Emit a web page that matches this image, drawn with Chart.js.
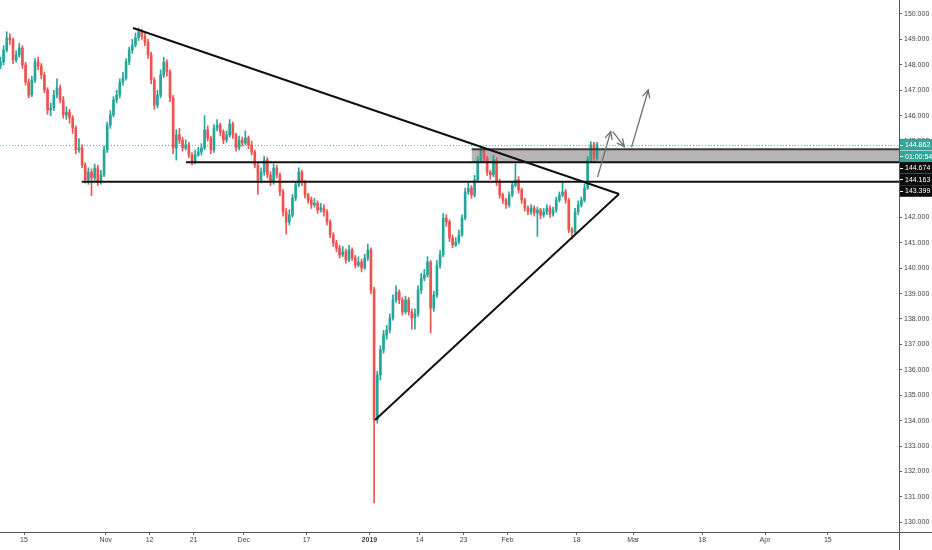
<!DOCTYPE html>
<html><head><meta charset="utf-8">
<script src="https://cdn.jsdelivr.net/npm/chart.js@4.4.0/dist/chart.umd.min.js"></script>
<style>html,body{margin:0;padding:0;background:#fff;overflow:hidden}canvas{display:block}</style>
</head><body>
<canvas id="c" width="932" height="550"></canvas>
<script>
// ---- data (12h candles, trading-day index 0 = Oct 15) ----
const firstSlot = -3.75;      // trading-day index of first candle
const slotsPerDay = 2;
const firstOpen = 147.95;
const closes = [
148.11,148.58,149.06,148.98,148.19,148.39,148.66,147.99,147.32,146.81,
147.40,148.11,147.95,147.60,147.01,146.22,146.30,146.81,147.09,146.62,
146.03,146.14,145.91,145.51,144.65,144.73,144.06,143.47,143.78,143.55,
143.94,143.39,143.67,144.65,145.63,146.03,146.62,146.81,147.32,147.48,
148.11,148.58,148.78,149.06,149.29,149.13,148.90,148.39,147.40,146.42,
146.81,147.60,148.11,147.72,146.70,144.73,145.24,145.04,144.73,144.85,
144.45,144.18,144.45,144.57,144.73,145.44,145.12,144.65,145.51,145.63,
145.36,145.04,145.24,145.67,145.24,144.73,145.04,144.92,145.12,144.85,
144.57,144.06,143.47,143.78,144.26,143.67,143.39,143.94,143.67,143.00,
142.21,141.82,142.09,142.76,143.27,143.78,143.39,142.88,142.68,142.49,
142.56,142.29,142.37,142.21,141.82,141.31,140.99,140.79,140.52,140.64,
140.32,140.72,140.40,140.12,140.24,140.01,140.40,140.72,139.14,134.03,
135.80,136.78,137.37,137.57,138.04,138.75,139.06,138.75,138.28,138.75,
138.28,138.04,138.20,139.14,139.61,139.73,140.24,138.43,138.94,140.12,
140.52,141.97,141.82,141.19,140.91,141.03,141.31,141.97,143.00,143.15,
142.88,143.47,144.26,144.65,144.33,143.78,143.67,144.26,143.39,142.88,
142.68,142.49,142.88,143.27,143.47,143.08,142.68,142.37,142.21,142.37,
142.17,142.29,142.09,142.21,142.37,142.13,142.29,142.68,142.88,143.00,
142.68,141.50,141.42,142.21,142.49,142.68,143.15,144.26,144.85,144.33,
144.86];
const highs = [
148.30,148.75,149.30,149.22,149.05,148.55,148.85,148.75,148.10,147.45,
147.55,148.25,148.30,148.05,147.70,147.10,146.50,147.00,147.45,147.20,
146.75,146.35,146.25,146.00,145.60,145.10,144.85,144.15,143.95,143.90,
144.10,144.05,143.85,144.80,145.75,146.20,146.75,147.00,147.45,147.70,
148.25,148.70,149.00,149.25,149.45,149.40,149.25,149.00,148.50,147.50,
147.00,147.80,148.30,148.20,147.80,146.80,145.45,145.50,145.15,145.05,
144.95,144.55,144.65,144.75,144.90,146.00,145.60,145.20,145.65,145.85,
145.70,145.45,145.40,145.85,145.75,145.30,145.20,145.15,145.40,145.20,
145.00,144.65,144.15,143.95,144.40,144.35,143.80,144.10,144.05,143.75,
143.10,142.35,142.30,142.90,143.40,143.95,143.85,143.45,142.95,142.80,
142.75,142.65,142.55,142.50,142.30,141.90,141.40,141.10,140.90,140.85,
140.75,140.90,140.80,140.50,140.45,140.35,140.55,140.95,140.80,139.25,
135.95,136.95,137.55,137.75,138.20,138.95,139.30,139.15,138.85,138.90,
138.85,138.40,138.40,139.30,139.80,139.95,140.45,140.30,139.10,140.30,
140.70,142.15,142.10,141.90,141.30,141.20,141.50,142.10,143.15,143.35,
143.25,143.65,144.40,144.80,144.70,144.40,143.85,144.45,144.35,143.50,
142.95,142.75,143.00,143.40,144.10,143.60,143.15,142.75,142.45,142.50,
142.45,142.40,142.35,142.35,142.50,142.45,142.40,142.80,143.00,143.40,
143.10,142.75,141.60,142.35,142.65,142.80,143.30,144.40,144.98,144.95,
144.95];
const lows = [
147.85,148.00,148.50,148.80,148.05,148.10,148.30,147.85,147.20,146.70,
146.75,147.30,147.80,147.45,146.90,146.05,146.00,146.20,146.70,146.50,
145.90,145.85,145.70,145.30,144.50,144.55,143.95,143.35,143.30,142.85,
143.45,143.25,143.30,143.60,144.55,145.50,145.95,146.50,146.70,147.20,
147.40,148.00,148.45,148.70,148.95,149.00,148.75,148.25,147.25,146.25,
146.30,146.70,147.50,147.55,146.55,144.50,144.25,144.90,144.60,144.65,
144.35,144.05,144.10,144.40,144.45,144.65,145.00,144.50,144.55,145.40,
145.20,144.90,144.95,145.15,145.10,144.60,144.65,144.80,144.85,144.70,
144.45,143.95,142.90,143.35,143.65,143.55,143.25,143.30,143.55,142.85,
142.05,141.35,141.70,142.00,142.65,143.20,143.25,142.75,142.55,142.35,
142.40,142.15,142.20,142.05,141.70,141.20,140.85,140.65,140.40,140.45,
140.20,140.25,140.30,140.00,140.05,139.85,139.95,140.30,139.00,130.76,
133.90,135.60,136.65,137.20,137.45,137.95,138.65,138.60,138.15,138.20,
138.15,137.60,137.60,138.10,139.00,139.50,139.65,137.45,138.30,138.85,
140.00,140.45,141.65,141.05,140.80,140.85,140.95,141.25,141.90,142.90,
142.75,142.80,143.40,144.15,144.20,143.65,143.50,143.60,143.25,142.75,
142.55,142.35,142.40,142.80,143.20,142.95,142.55,142.25,142.10,142.10,
142.05,141.25,141.95,142.00,142.10,142.00,142.05,142.20,142.60,142.80,
142.55,141.40,141.15,141.35,142.10,142.40,142.60,143.10,144.15,144.20,
144.25];

const tickDays   = [0, 13, 20, 27, 35, 45, 55, 63, 70, 77, 88, 97, 108, 118, 128];
const tickLabels = ['15','Nov','12','21','Dec','17','2019','14','23','Feb','18','Mar','18','Apr','15'];
const priceTicks = [130,131,132,133,134,135,136,137,138,139,140,141,142,143,144,145,146,147,148,149,150];

// drawings: [trading day, price]
const trendDown = [[17.36, 149.45], [94.75, 142.92]];
const trendUp   = [[55.9, 134.03], [94.75, 142.92]];
const levelPrices = [144.163, 143.399];
const levelStarts = [25.8, 9.2];
const zoneStart = 71.3;
const zoneTop = 144.674;
const zoneBottom = 144.163;
const arrowPaths = [
  [[91.35, 143.60], [93.42, 145.37]],
  [[93.79, 145.36], [95.59, 144.78]],
  [[96.77, 144.78], [99.41, 147.01]]
];
const lastPrice = 144.862;
const countdown = '01:00:54';

// ---- build ----
const UP = '#26a69a', DOWN = '#ef5350';
const opens = closes.map((c, i) => i ? closes[i - 1] : firstOpen);
const xs = closes.map((c, i) => firstSlot + i / slotsPerDay);
const bodyData = closes.map((c, i) => ({x: xs[i], y: [opens[i], c]}));
const wickData = closes.map((c, i) => ({x: xs[i], y: [lows[i], highs[i]]}));
const colorOf = ctx => closes[ctx.dataIndex] >= opens[ctx.dataIndex] ? UP : DOWN;

Chart.defaults.font.family = "'Liberation Sans', Arial, sans-serif";

function arrow(ctx, x1, y1, x2, y2) {
  ctx.beginPath(); ctx.moveTo(x1, y1); ctx.lineTo(x2, y2); ctx.stroke();
  const a = Math.atan2(y2 - y1, x2 - x1), L = 8, s = 0.45;
  ctx.beginPath();
  ctx.moveTo(x2 - L * Math.cos(a - s), y2 - L * Math.sin(a - s));
  ctx.lineTo(x2, y2);
  ctx.lineTo(x2 - L * Math.cos(a + s), y2 - L * Math.sin(a + s));
  ctx.stroke();
}

const overlay = {
  id: 'overlay',
  beforeDatasetsDraw(chart) {
    const {ctx, chartArea: a, scales: {x, y}} = chart;
    ctx.save();
    ctx.beginPath(); ctx.rect(a.left, a.top, a.width, a.height); ctx.clip();
    const zx = x.getPixelForValue(zoneStart), zt = y.getPixelForValue(zoneTop), zb = y.getPixelForValue(zoneBottom);
    ctx.fillStyle = '#b5b5b5';
    ctx.fillRect(zx, zt, a.right - zx, zb - zt);
    ctx.strokeStyle = '#5fb3a8'; ctx.lineWidth = 1; ctx.setLineDash([1, 2]);
    const ly = Math.round(y.getPixelForValue(lastPrice)) + 0.5;
    ctx.beginPath(); ctx.moveTo(a.left, ly); ctx.lineTo(a.right, ly); ctx.stroke();
    ctx.restore();
  },
  afterDatasetsDraw(chart) {
    const {ctx, chartArea: a, scales: {x, y}} = chart;
    const P = p => [x.getPixelForValue(p[0]), y.getPixelForValue(p[1])];
    ctx.save();
    ctx.beginPath(); ctx.rect(a.left, a.top, a.width, a.height); ctx.clip();
    const zx = x.getPixelForValue(zoneStart), zt = y.getPixelForValue(zoneTop);
    ctx.strokeStyle = '#3c3c3c'; ctx.lineWidth = 2;
    ctx.beginPath(); ctx.moveTo(zx, zt); ctx.lineTo(a.right, zt); ctx.stroke();
    ctx.strokeStyle = '#111'; ctx.lineWidth = 2;
    levelPrices.forEach((p, i) => {
      const yy = y.getPixelForValue(p);
      ctx.beginPath(); ctx.moveTo(x.getPixelForValue(levelStarts[i]), yy); ctx.lineTo(a.right, yy); ctx.stroke();
    });
    [trendDown, trendUp].forEach(l => {
      const p1 = P(l[0]), p2 = P(l[1]);
      ctx.beginPath(); ctx.moveTo(p1[0], p1[1]); ctx.lineTo(p2[0], p2[1]); ctx.stroke();
    });
    ctx.strokeStyle = '#6e6e6e'; ctx.lineWidth = 1.3; ctx.lineCap = 'round';
    arrowPaths.forEach(ar => { const p1 = P(ar[0]), p2 = P(ar[1]); arrow(ctx, p1[0], p1[1], p2[0], p2[1]); });
    ctx.restore();
  },
  afterDraw(chart) {
    const {ctx, chartArea: a, scales: {y}} = chart;
    ctx.save();
    // axis lines continue past the crossing, as in the reference
    ctx.strokeStyle = '#555'; ctx.lineWidth = 1;
    const ax = Math.round(a.right) + 0.5, ay = Math.round(a.bottom) + 0.5;
    ctx.beginPath(); ctx.moveTo(ax, a.bottom); ctx.lineTo(ax, chart.height); ctx.stroke();
    ctx.beginPath(); ctx.moveTo(a.right, ay); ctx.lineTo(chart.width, ay); ctx.stroke();
    const items = [
      {t: lastPrice.toFixed(3), p: lastPrice, bg: '#33a697'},
      {t: countdown, p: lastPrice, bg: '#33a697'},
      {t: zoneTop.toFixed(3), p: zoneTop, bg: '#0c0c0c'},
      {t: levelPrices[0].toFixed(3), p: levelPrices[0], bg: '#0c0c0c'},
      {t: levelPrices[1].toFixed(3), p: levelPrices[1], bg: '#0c0c0c'}
    ];
    let prev = -1e9;
    ctx.font = "7px 'Liberation Sans', Arial, sans-serif";
    ctx.textBaseline = 'middle';
    items.forEach((it, i) => {
      const cy = Math.max(y.getPixelForValue(it.p), prev + 11.6);
      prev = cy;
      ctx.fillStyle = it.bg;
      const gap = (i === 1) ? 0.5 : 0;
      ctx.fillRect(a.right + 1, cy - 5.8 + gap, chart.width - a.right - 1, 11.6 - gap);
      ctx.fillStyle = '#fff';
      ctx.fillRect(a.right + 1, Math.round(cy), 3, 1);
      ctx.fillText(it.t, a.right + 6, cy + 0.5);
    });
    ctx.restore();
  }
};

new Chart(document.getElementById('c'), {
  type: 'bar',
  data: {
    datasets: [
      {data: bodyData, backgroundColor: colorOf, barThickness: 2, minBarLength: 1, grouped: false, borderWidth: 0},
      {data: wickData, backgroundColor: colorOf, barThickness: 1, grouped: false, borderWidth: 0}
    ]
  },
  options: {
    responsive: false,
    animation: false,
    events: [],
    layout: {padding: 0},
    plugins: {legend: {display: false}, tooltip: {enabled: false}},
    scales: {
      x: {
        type: 'linear',
        min: -3.822, max: 139.33,
        offset: false,
        grid: {offset: false, drawOnChartArea: false, drawTicks: true, tickLength: 3, color: '#666'},
        border: {display: true, color: '#555', width: 1},
        afterBuildTicks: s => { s.ticks = tickDays.map(v => ({value: v})); },
        afterFit: s => { s.height = 18; s.paddingLeft = 0; s.paddingRight = 0; },
        ticks: {
          autoSkip: false, maxRotation: 0, padding: 1, color: '#444',
          font: c => ({size: 7, weight: (c.tick && c.tick.value === 55) ? 'bold' : 'normal'}),
          callback: (v, i) => tickLabels[i]
        }
      },
      y: {
        position: 'right',
        min: 129.62, max: 150.55,
        grid: {drawOnChartArea: false, drawTicks: true, tickLength: 3, color: '#666'},
        border: {display: true, color: '#555', width: 1},
        afterBuildTicks: s => { s.ticks = priceTicks.map(v => ({value: v})); },
        afterFit: s => { s.width = 33; s.paddingTop = 0; s.paddingBottom = 0; },
        ticks: {padding: 2, color: '#444', font: {size: 7}, callback: v => Number(v).toFixed(3)}
      }
    }
  },
  plugins: [overlay]
});
</script>
</body></html>
